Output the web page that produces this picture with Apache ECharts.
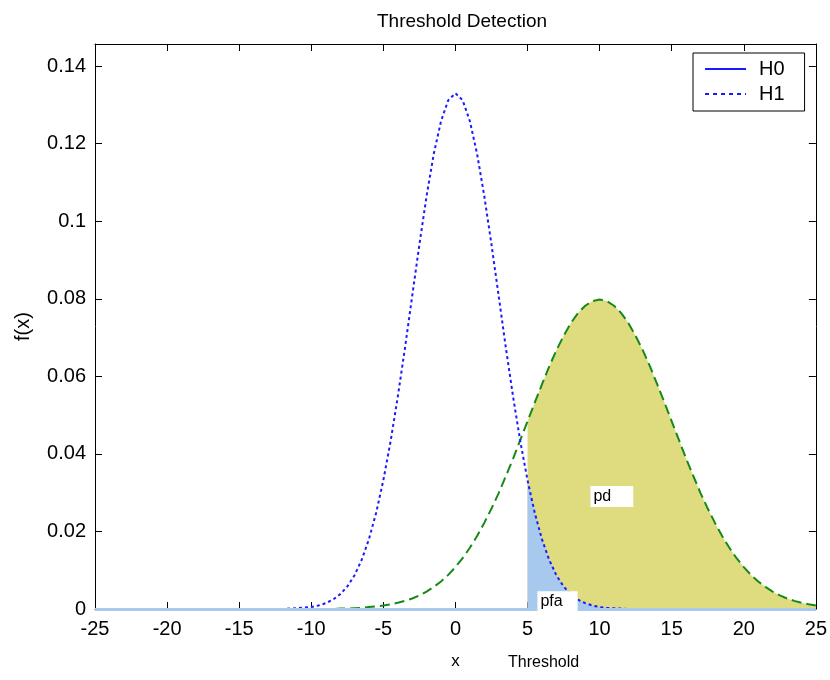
<!DOCTYPE html>
<html>
<head>
<meta charset="utf-8">
<script src="https://cdn.jsdelivr.net/npm/echarts@6/dist/echarts.min.js"></script>
<style>html,body{margin:0;padding:0;background:#fff;}#c{width:830px;height:680px;}</style>
</head>
<body>
<div id="c"></div>
<script>
// x grid
var xs = [-25,-20,-15,-12,-11,
  -10,-9.5,-9,-8.5,-8,-7.5,-7,-6.5,-6,-5.5,-5,-4.5,-4,-3.5,-3,-2.5,-2,-1.5,-1,-0.5,
  0,0.5,1,1.5,2,2.5,3,3.5,4,4.5,5,5.5,6,6.5,7,7.5,8,8.5,9,9.5,
  10,10.5,11,11.5,12,12.5,13,13.5,14,14.5,15,15.5,16,16.5,17,17.5,18,18.5,19,19.5,
  20,20.5,21,21.5,22,22.5,23,23.5,24,24.5,25];
// dotted blue curve (centred at 0)
var blueVals = [0,0,0,0,0.0002,
  0.0005,0.0009,0.0015,0.0024,0.0038,0.0058,0.0087,0.0127,0.0180,0.0248,0.0332,0.0432,0.0547,0.0673,0.0807,0.0940,0.1065,0.1174,0.1258,0.1312,
  0.1330,0.1312,0.1258,0.1174,0.1065,0.0940,0.0807,0.0673,0.0547,0.0432,0.0332,0.0248,0.0180,0.0127,0.0087,0.0058,0.0038,0.0024,0.0015,0.0009,
  0.0005,0.0003,0.0002,0.0001,0,0,0,0,0,0,0,0,0,0,0,0,0,0,0,0,
  0,0,0,0,0,0,0,0,0,0,0];
// green dashed curve (centred at 10)
var greenVals = [0,0,0,0,0,
  0,0,0,0,0.0001,0.0001,0.0002,0.0003,0.0005,0.0007,0.0009,0.0012,0.0016,0.0021,0.0027,0.0035,0.0045,0.0057,0.0071,0.0088,
  0.0108,0.0131,0.0158,0.0188,0.0222,0.0259,0.0299,0.0343,0.0388,0.0436,0.0484,0.0532,0.0579,0.0625,0.0667,0.0704,0.0737,0.0763,0.0782,0.0794,
  0.0798,0.0794,0.0782,0.0763,0.0737,0.0704,0.0667,0.0625,0.0579,0.0532,0.0484,0.0436,0.0388,0.0343,0.0299,0.0259,0.0222,0.0188,0.0158,0.0131,
  0.0108,0.0088,0.0071,0.0057,0.0045,0.0035,0.0027,0.0021,0.0016,0.0012,0.0009];
var threshold = 5;
var xTicks = [-25,-20,-15,-10,-5,0,5,10,15,20,25];
var yTicks = [0,0.02,0.04,0.06,0.08,0.1,0.12,0.14];
var legendNames = ['H0','H1'];
var textLabels = [['pd', 9.33, 0.029, 22], ['pfa', 5.65, 0.0019, 15]];

function pairs(vals, fromX) {
  var out = [];
  for (var i = 0; i < xs.length; i++) {
    if (fromX === undefined || xs[i] >= fromX) out.push([xs[i], vals[i]]);
  }
  return out;
}

var FONT = 'Liberation Sans, Arial, sans-serif';
var YELLOW = '#dfdc7f';
var LBLUE = '#a7c9ee';
var BLUE = '#1a1aff';
var GREEN = '#168a16';

var chart = echarts.init(document.getElementById('c'), null, {renderer: 'canvas'});
var yMax = 0.1457;
function yFmt(v) {
  for (var i = 0; i < yTicks.length; i++) {
    if (Math.abs(v - yTicks[i]) < 1e-9) return String(yTicks[i]);
  }
  return '';
}
var option = {
  animation: false,
  backgroundColor: '#fff',
  title: {
    text: 'Threshold Detection', left: 457, top: 7, textAlign: 'center',
    textStyle: {fontFamily: FONT, fontSize: 19, fontWeight: 'normal', color: '#000'}
  },
  grid: {left: 95, right: 14, top: 44, bottom: 71, show: false},
  legend: {
    data: legendNames, orient: 'vertical', left: 693, top: 53,
    backgroundColor: '#fff', borderColor: '#000', borderWidth: 1, borderRadius: 0,
    padding: [6, 20, 7, 11], itemWidth: 41, itemHeight: 14, itemGap: 5,
    itemStyle: {opacity: 0},
    textStyle: {fontFamily: FONT, fontSize: 20, color: '#000', lineHeight: 20, padding: [0, 0, 0, 8]}
  },
  xAxis: [{
    type: 'value', min: -25, max: 25, interval: 5, position: 'bottom',
    name: 'x', nameLocation: 'middle', nameGap: 44,
    nameTextStyle: {fontFamily: FONT, fontSize: 17, color: '#000'},
    axisLine: {show: true, onZero: false, lineStyle: {color: '#000', width: 1}},
    axisTick: {show: true, inside: true, length: 7, lineStyle: {color: '#000'}},
    axisLabel: {fontFamily: FONT, fontSize: 20, color: '#000', margin: 10,
      formatter: function (v) { return xTicks.indexOf(v) >= 0 ? String(v) : ''; }},
    splitLine: {show: false}
  }, {
    type: 'value', min: -25, max: 25, interval: 5, position: 'top',
    axisLine: {show: true, onZero: false, lineStyle: {color: '#000', width: 1}},
    axisTick: {show: true, inside: true, length: 7, lineStyle: {color: '#000'}},
    axisLabel: {show: false}, splitLine: {show: false}
  }],
  yAxis: [{
    type: 'value', min: 0, max: yMax, interval: 0.02, position: 'left',
    name: 'f(x)', nameLocation: 'middle', nameGap: 62, nameRotate: 90,
    nameTextStyle: {fontFamily: FONT, fontSize: 20, color: '#000'},
    axisLine: {show: true, onZero: false, lineStyle: {color: '#000', width: 1}},
    axisTick: {show: true, inside: true, length: 7, lineStyle: {color: '#000'}},
    axisLabel: {fontFamily: FONT, fontSize: 20, color: '#000', margin: 9, formatter: yFmt, showMaxLabel: false},
    splitLine: {show: false}
  }, {
    type: 'value', min: 0, max: yMax, interval: 0.02, position: 'right',
    axisLine: {show: true, onZero: false, lineStyle: {color: '#000', width: 1}},
    axisTick: {show: true, inside: true, length: 7, lineStyle: {color: '#000'}},
    axisLabel: {show: false}, splitLine: {show: false}
  }],
  graphic: [{
    type: 'text', left: 508, top: 655,
    style: {text: 'Threshold', fontFamily: FONT, fontSize: 16, fill: '#000'}
  }],
  series: [
    {
      name: 'pd area', type: 'line', data: pairs(greenVals, threshold),
      showSymbol: false, symbol: 'none', silent: true,
      lineStyle: {width: 0, color: YELLOW}, areaStyle: {color: YELLOW, opacity: 1}
    },
    {
      name: 'pfa area', type: 'line', data: pairs(blueVals, threshold),
      showSymbol: false, symbol: 'none', silent: true,
      lineStyle: {width: 0, color: LBLUE}, areaStyle: {color: LBLUE, opacity: 1},
      markLine: {
        silent: true, symbol: 'none', label: {show: false},
        lineStyle: {color: LBLUE, width: 3, type: 'solid'},
        data: [{yAxis: 0}]
      }
    },
    {
      name: 'green', type: 'line', data: pairs(greenVals),
      showSymbol: false, symbol: 'none', silent: true,
      lineStyle: {color: GREEN, width: 2, type: [10, 5]}
    },
    {
      name: 'blue', type: 'line', data: pairs(blueVals),
      showSymbol: false, symbol: 'none', silent: true,
      lineStyle: {color: BLUE, width: 2, type: [3, 3]}
    },
    {
      name: 'labels', type: 'scatter', symbol: 'rect', symbolSize: 1, silent: true, z: 10,
      itemStyle: {color: 'rgba(0,0,0,0)', opacity: 1},
      data: textLabels.map(function (t) {
        return {value: [t[1], t[2]], name: t[0], label: {padding: [4, t[3], 4, 3]}};
      }),
      label: {
        show: true, position: 'right', distance: 0, opacity: 1,
        formatter: function (p) { return p.name; },
        fontFamily: FONT, fontSize: 16, color: '#000', lineHeight: 13,
        backgroundColor: '#ffffff', padding: [4, 20, 4, 3]
      },
      labelLayout: {hideOverlap: false}
    },
    {
      name: 'H0', type: 'line', data: [], symbol: 'none', showSymbol: false,
      itemStyle: {color: BLUE}, lineStyle: {color: BLUE, width: 2, type: 'solid'}
    },
    {
      name: 'H1', type: 'line', data: [], symbol: 'none', showSymbol: false,
      itemStyle: {color: BLUE}, lineStyle: {color: BLUE, width: 2, type: [4, 4]}
    }
  ]
};
chart.setOption(option);
</script>
</body>
</html>
